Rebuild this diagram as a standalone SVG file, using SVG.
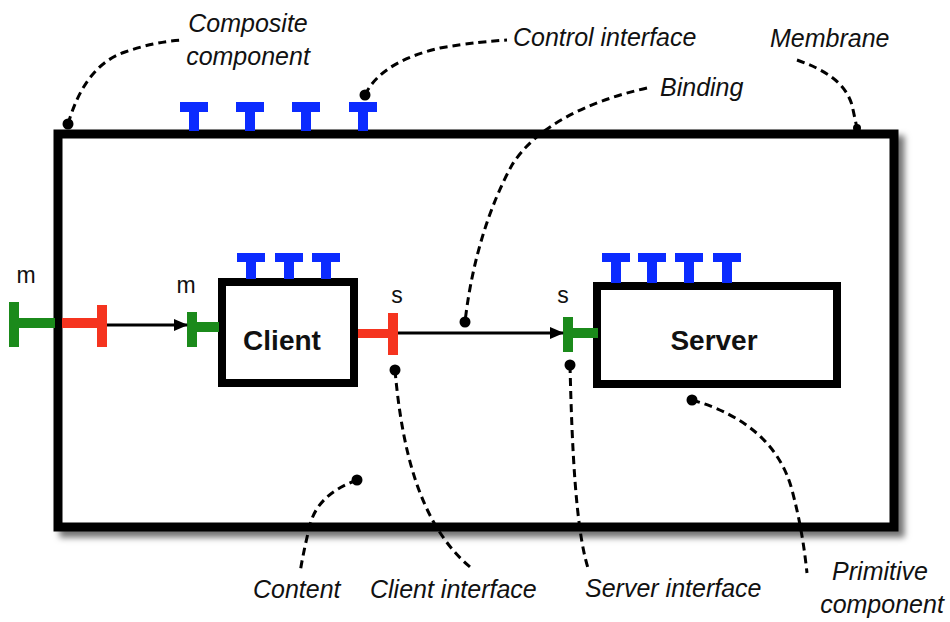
<svg xmlns="http://www.w3.org/2000/svg" width="950" height="622" viewBox="0 0 950 622">
<style>
.box{fill:#fff;stroke:#000;stroke-width:9}
.ibox{fill:#fff;stroke:#000;stroke-width:8}
.ctl{fill:#0b2bff}
.srv{fill:#1b8a1b}
.cli{fill:#f5341f}
.wire{stroke:#000;stroke-width:3;fill:none;marker-end:url(#ah)}
.lead{stroke:#000;stroke-width:3;fill:none;stroke-dasharray:8 5}
.dot{fill:#000}
.lbl{font-family:"Liberation Sans",Arial,sans-serif;font-style:italic;font-size:25px;fill:#111}
.name{font-family:"Liberation Sans",Arial,sans-serif;font-weight:bold;font-size:28px;fill:#111}
.tag{font-family:"Liberation Sans",Arial,sans-serif;font-size:23px;fill:#111}
</style>
<defs>
<marker id="ah" markerWidth="14" markerHeight="12" refX="13" refY="6" orient="auto" markerUnits="userSpaceOnUse">
<path d="M0,0 L14,6 L0,12 Z" fill="#000"/>
</marker>
<filter id="sh" x="-5%" y="-5%" width="115%" height="120%">
<feDropShadow dx="6" dy="6" stdDeviation="3" flood-color="#000" flood-opacity="0.55"/>
</filter>
</defs>
<rect x="0" y="0" width="950" height="622" fill="#fff"/>

<g id="composite">
<rect class="box" x="58" y="134" width="836" height="393" filter="url(#sh)"/>
<g id="composite-controls">
<rect class="ctl" x="180" y="102" width="28" height="10"/><rect class="ctl" x="189" y="102" width="10" height="29"/>
<rect class="ctl" x="236" y="102" width="28" height="10"/><rect class="ctl" x="245" y="102" width="10" height="29"/>
<rect class="ctl" x="292" y="102" width="28" height="10"/><rect class="ctl" x="301" y="102" width="10" height="29"/>
<rect class="ctl" x="349" y="102" width="28" height="10"/><rect class="ctl" x="358" y="102" width="10" height="29"/>
</g>
<g id="composite-server-if">
<rect class="srv" x="9" y="302" width="10" height="45"/>
<rect class="srv" x="19" y="318" width="36" height="10"/>
<text class="tag" x="26" y="283" text-anchor="middle">m</text>
</g>
<g id="composite-client-if">
<rect class="cli" x="62" y="318" width="36" height="10"/>
<rect class="cli" x="97" y="305" width="10" height="42"/>
</g>
</g>

<g id="client">
<rect class="ibox" x="222" y="282" width="132" height="101"/>
<rect class="ctl" x="237" y="253" width="28" height="9"/><rect class="ctl" x="246" y="253" width="10" height="26"/>
<rect class="ctl" x="275" y="253" width="28" height="9"/><rect class="ctl" x="284" y="253" width="10" height="26"/>
<rect class="ctl" x="312" y="253" width="28" height="9"/><rect class="ctl" x="321" y="253" width="10" height="26"/>
<rect class="srv" x="187" y="312" width="10" height="35"/>
<rect class="srv" x="197" y="322" width="22" height="10"/>
<text class="tag" x="186" y="293" text-anchor="middle">m</text>
<rect class="cli" x="358" y="329" width="31" height="9"/>
<rect class="cli" x="388" y="313" width="10" height="42"/>
<text class="tag" x="397" y="303" text-anchor="middle">s</text>
<text class="name" x="282" y="350" text-anchor="middle">Client</text>
</g>

<g id="server">
<rect class="ibox" x="597" y="286" width="240" height="98"/>
<rect class="ctl" x="602" y="253" width="28" height="9"/><rect class="ctl" x="611" y="253" width="10" height="30"/>
<rect class="ctl" x="638" y="253" width="28" height="9"/><rect class="ctl" x="647" y="253" width="10" height="30"/>
<rect class="ctl" x="675" y="253" width="28" height="9"/><rect class="ctl" x="684" y="253" width="10" height="30"/>
<rect class="ctl" x="713" y="253" width="28" height="9"/><rect class="ctl" x="722" y="253" width="10" height="30"/>
<rect class="srv" x="563" y="317" width="10" height="35"/>
<rect class="srv" x="573" y="328" width="25" height="10"/>
<text class="tag" x="563" y="303" text-anchor="middle">s</text>
<text class="name" x="714" y="350" text-anchor="middle">Server</text>
</g>

<g id="connectors">
<path class="wire" d="M107,325 L187,325"/>
<path class="wire" d="M398,333 L563,333"/>
</g>

<g id="annotations">
<g id="lbl-composite">
<text class="lbl" x="248" y="32" text-anchor="middle">Composite</text>
<text class="lbl" x="248" y="65" text-anchor="middle">component</text>
<path class="lead" d="M68,124 C78,90 95,62 125,52 C145,45 165,41 182,40"/>
<circle class="dot" cx="68" cy="124" r="5.5"/>
</g>
<g id="lbl-control">
<text class="lbl" x="513" y="46">Control interface</text>
<path class="lead" d="M365,95 C378,68 410,55 440,48 C470,43 490,41 507,40"/>
<circle class="dot" cx="365" cy="95" r="5.5"/>
</g>
<g id="lbl-membrane">
<text class="lbl" x="770" y="47">Membrane</text>
<path class="lead" d="M797,60 C825,70 845,82 852,105 L857,128"/>
<circle class="dot" cx="857" cy="128" r="4"/>
</g>
<g id="lbl-binding">
<text class="lbl" x="660" y="96">Binding</text>
<path class="lead" d="M647,88 C585,102 535,128 512,165 C490,205 472,260 465,322"/>
<circle class="dot" cx="465" cy="322" r="5.5"/>
</g>
<g id="lbl-content">
<text class="lbl" x="253" y="598">Content</text>
<path class="lead" d="M357,480 C330,490 315,505 310,525 C305,545 302,560 300,573"/>
<circle class="dot" cx="357" cy="480" r="5.5"/>
</g>
<g id="lbl-client-if">
<text class="lbl" x="370" y="598">Client interface</text>
<path class="lead" d="M395,370 C402,450 420,525 470,567"/>
<circle class="dot" cx="395" cy="370" r="5.5"/>
</g>
<g id="lbl-server-if">
<text class="lbl" x="585" y="597">Server interface</text>
<path class="lead" d="M570,365 C572,450 576,530 588,568"/>
<circle class="dot" cx="570" cy="365" r="5.5"/>
</g>
<g id="lbl-primitive">
<text class="lbl" x="880" y="580" text-anchor="middle">Primitive</text>
<text class="lbl" x="882" y="613" text-anchor="middle">component</text>
<path class="lead" d="M692,400 C745,415 780,445 792,490 C800,520 804,545 807,573"/>
<circle class="dot" cx="692" cy="400" r="5.5"/>
</g>
</g>
</svg>
